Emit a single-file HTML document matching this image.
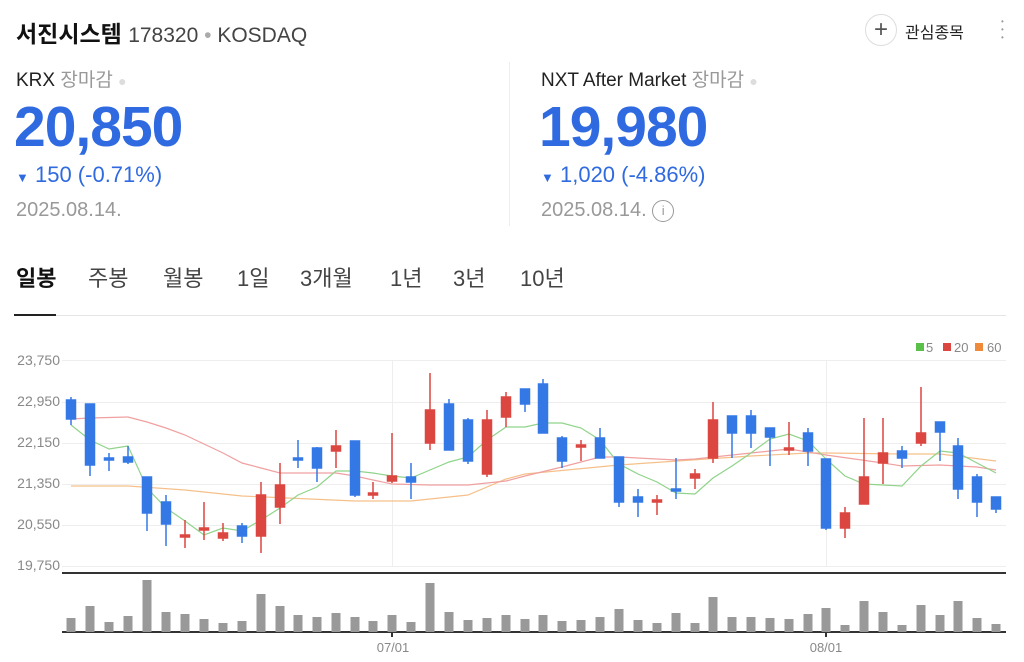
<!DOCTYPE html>
<html><head><meta charset="utf-8"><style>
body{margin:0;width:1024px;height:662px;background:#fff;font-family:"Liberation Sans","Noto Sans CJK KR",sans-serif;position:relative;overflow:hidden}
.a{position:absolute;white-space:nowrap}
</style></head><body>
<div class="a" style="left:16px;top:15px;font-size:23px;font-weight:bold;color:#111">서진시스템 <span style="font-weight:normal;font-size:21px;color:#444">178320 <span style="color:#aaa">•</span> KOSDAQ</span></div>
<div class="a" style="left:865px;top:14px;width:30px;height:30px;border:1px solid #ddd;border-radius:50%;text-align:center;line-height:30px;font-size:24px;color:#555">+</div>
<div class="a" style="left:905px;top:19px;font-size:16px;color:#222">관심종목</div>
<div class="a" style="left:1001px;top:18px;width:4px;font-size:8px;line-height:8px;color:#999">•<br>•<br>•</div>

<div class="a" style="left:16px;top:65px;font-size:19px;color:#222">KRX <span style="color:#999">장마감</span> <span style="color:#ddd;font-size:14px">●</span></div>
<div class="a" style="left:14px;top:94px;font-size:57px;font-weight:bold;color:#2f6ae0;letter-spacing:-1px">20,850</div>
<div class="a" style="left:16px;top:162px;font-size:22px;color:#2f6ae0"><span style="font-size:13px">▼</span> 150 (-0.71%)</div>
<div class="a" style="left:16px;top:199px;font-size:20px;color:#999">2025.08.14.</div>
<div class="a" style="left:509px;top:62px;width:1px;height:164px;background:#eee"></div>
<div class="a" style="left:541px;top:65px;font-size:19px;color:#222">NXT After Market <span style="color:#999">장마감</span> <span style="color:#ddd;font-size:14px">●</span></div>
<div class="a" style="left:539px;top:94px;font-size:57px;font-weight:bold;color:#2f6ae0;letter-spacing:-1px">19,980</div>
<div class="a" style="left:541px;top:162px;font-size:22px;color:#2f6ae0"><span style="font-size:13px">▼</span> 1,020 (-4.86%)</div>
<div class="a" style="left:541px;top:199px;font-size:20px;color:#999">2025.08.14. <span style="display:inline-block;width:20px;height:20px;border:1px solid #999;border-radius:50%;text-align:center;line-height:20px;font-size:13px;vertical-align:middle">i</span></div>

<div class="a" style="left:16px;top:261px;font-size:22px;color:#111;font-weight:bold">일봉</div>
<div class="a" style="left:88px;top:261px;font-size:22px;color:#444">주봉</div>
<div class="a" style="left:163px;top:261px;font-size:22px;color:#444">월봉</div>
<div class="a" style="left:237px;top:261px;font-size:22px;color:#444">1일</div>
<div class="a" style="left:300px;top:261px;font-size:22px;color:#444">3개월</div>
<div class="a" style="left:390px;top:261px;font-size:22px;color:#444">1년</div>
<div class="a" style="left:453px;top:261px;font-size:22px;color:#444">3년</div>
<div class="a" style="left:520px;top:261px;font-size:22px;color:#444">10년</div>
<div class="a" style="left:14px;top:315px;width:992px;height:1px;background:#e5e5e5"></div>
<div class="a" style="left:14px;top:314px;width:42px;height:2px;background:#222"></div>

<svg class="a" style="left:0;top:0" width="1024" height="662" font-family="Liberation Sans, sans-serif">
<g stroke="#eee" stroke-width="1">
<line x1="62" y1="360.5" x2="1006" y2="360.5"/><line x1="62" y1="402.5" x2="1006" y2="402.5"/><line x1="62" y1="443.5" x2="1006" y2="443.5"/><line x1="62" y1="484.5" x2="1006" y2="484.5"/><line x1="62" y1="525.5" x2="1006" y2="525.5"/><line x1="62" y1="566.5" x2="1006" y2="566.5"/>
<line x1="392.5" y1="361" x2="392.5" y2="566"/><line x1="826.5" y1="361" x2="826.5" y2="566"/>
</g>
<g font-size="14" fill="#888" text-anchor="end">
<text x="60" y="365">23,750</text><text x="60" y="406">22,950</text><text x="60" y="447">22,150</text><text x="60" y="488">21,350</text><text x="60" y="529">20,550</text><text x="60" y="570">19,750</text>
</g>
<g font-size="13" fill="#888" text-anchor="middle"><text x="393" y="652">07/01</text><text x="826" y="652">08/01</text></g>
<g font-size="13" fill="#888"><rect x="916" y="343" width="8" height="8" fill="#5ac04a"/><text x="926" y="352">5</text><rect x="943" y="343" width="8" height="8" fill="#dc4640"/><text x="954" y="352">20</text><rect x="975" y="343" width="8" height="8" fill="#ee8a3a"/><text x="987" y="352">60</text></g>
<line x1="62" y1="573" x2="1006" y2="573" stroke="#333" stroke-width="2"/>
<line x1="62" y1="632" x2="1006" y2="632" stroke="#333" stroke-width="2"/>
<line x1="392" y1="632" x2="392" y2="637" stroke="#333" stroke-width="2"/><line x1="826" y1="632" x2="826" y2="637" stroke="#333" stroke-width="2"/>
<polyline fill="none" stroke="#f5c08a" stroke-width="1.2" points="71,486 128,486 185,490 242,496 355,501 411,501 468,495 506,479 525,474 619,465 751,456 808,453 826,453 902,454 940,454 996,461"/>
<polyline fill="none" stroke="#f0a0a0" stroke-width="1.2" points="71,419 90,418 128,417 147,422 166,428 185,435 204,444 223,453 242,463 261,468 280,473 336,473 355,476 373,480 392,484 430,485 468,485 487,483 506,481 525,476 562,467 600,457 619,457 676,460 695,459 751,453 770,451 789,449 808,452 826,455 883,463 902,466 940,465 977,467 996,470"/>
<polyline fill="none" stroke="#8fd48a" stroke-width="1.2" points="71,425 90,440 109,449 128,446 147,488 166,508 185,521 204,535 223,528 242,531 261,520 280,508 298,495 317,487 336,471 355,471 373,473 392,476 411,478 430,470 449,462 468,457 487,440 506,427 525,427 543,423 562,423 581,428 600,440 619,464 638,474 657,482 676,493 695,494 713,478 732,466 751,453 770,439 789,434 808,441 826,459 845,476 864,484 883,485 902,486 921,466 940,451 958,453 977,463 996,473"/>
<g fill="#999">
<rect x="66.5" y="618" width="9" height="14"/><rect x="85.5" y="606" width="9" height="26"/><rect x="104.5" y="622" width="9" height="10"/><rect x="123.5" y="616" width="9" height="16"/><rect x="142.5" y="580" width="9" height="52"/><rect x="161.5" y="612" width="9" height="20"/><rect x="180.5" y="614" width="9" height="18"/><rect x="199.5" y="619" width="9" height="13"/><rect x="218.5" y="623" width="9" height="9"/><rect x="237.5" y="621" width="9" height="11"/><rect x="256.5" y="594" width="9" height="38"/><rect x="275.5" y="606" width="9" height="26"/><rect x="293.5" y="615" width="9" height="17"/><rect x="312.5" y="617" width="9" height="15"/><rect x="331.5" y="613" width="9" height="19"/><rect x="350.5" y="617" width="9" height="15"/><rect x="368.5" y="621" width="9" height="11"/><rect x="387.5" y="615" width="9" height="17"/><rect x="406.5" y="622" width="9" height="10"/><rect x="425.5" y="583" width="9" height="49"/><rect x="444.5" y="612" width="9" height="20"/><rect x="463.5" y="620" width="9" height="12"/><rect x="482.5" y="618" width="9" height="14"/><rect x="501.5" y="615" width="9" height="17"/><rect x="520.5" y="619" width="9" height="13"/><rect x="538.5" y="615" width="9" height="17"/><rect x="557.5" y="621" width="9" height="11"/><rect x="576.5" y="620" width="9" height="12"/><rect x="595.5" y="617" width="9" height="15"/><rect x="614.5" y="609" width="9" height="23"/><rect x="633.5" y="620" width="9" height="12"/><rect x="652.5" y="623" width="9" height="9"/><rect x="671.5" y="613" width="9" height="19"/><rect x="690.5" y="623" width="9" height="9"/><rect x="708.5" y="597" width="9" height="35"/><rect x="727.5" y="617" width="9" height="15"/><rect x="746.5" y="617" width="9" height="15"/><rect x="765.5" y="618" width="9" height="14"/><rect x="784.5" y="619" width="9" height="13"/><rect x="803.5" y="614" width="9" height="18"/><rect x="821.5" y="608" width="9" height="24"/><rect x="840.5" y="625" width="9" height="7"/><rect x="859.5" y="601" width="9" height="31"/><rect x="878.5" y="612" width="9" height="20"/><rect x="897.5" y="625" width="9" height="7"/><rect x="916.5" y="605" width="9" height="27"/><rect x="935.5" y="615" width="9" height="17"/><rect x="953.5" y="601" width="9" height="31"/><rect x="972.5" y="618" width="9" height="14"/><rect x="991.5" y="624" width="9" height="8"/>
</g>
<g stroke-width="1.5">
<g stroke="#3478e5" fill="#3478e5">
<line x1="71" y1="397" x2="71" y2="425"/><rect x="66.5" y="400" width="9" height="19"/>
<line x1="90" y1="404" x2="90" y2="476"/><rect x="85.5" y="404" width="9" height="61"/>
<line x1="109" y1="453" x2="109" y2="471"/><rect x="104.5" y="458" width="9" height="2"/>
<line x1="128" y1="446" x2="128" y2="464"/><rect x="123.5" y="457" width="9" height="5"/>
<line x1="147" y1="477" x2="147" y2="531"/><rect x="142.5" y="477" width="9" height="36"/>
<line x1="166" y1="495" x2="166" y2="546"/><rect x="161.5" y="502" width="9" height="22"/>
<line x1="242" y1="523" x2="242" y2="543"/><rect x="237.5" y="526" width="9" height="10"/>
<line x1="298" y1="440" x2="298" y2="468"/><rect x="293.5" y="458" width="9" height="2"/>
<line x1="317" y1="447" x2="317" y2="482"/><rect x="312.5" y="448" width="9" height="20"/>
<line x1="355" y1="441" x2="355" y2="497"/><rect x="350.5" y="441" width="9" height="54"/>
<line x1="411" y1="463" x2="411" y2="499"/><rect x="406.5" y="477" width="9" height="5"/>
<line x1="449" y1="399" x2="449" y2="450"/><rect x="444.5" y="404" width="9" height="46"/>
<line x1="468" y1="418" x2="468" y2="464"/><rect x="463.5" y="420" width="9" height="41"/>
<line x1="525" y1="389" x2="525" y2="412"/><rect x="520.5" y="389" width="9" height="15"/>
<line x1="543" y1="379" x2="543" y2="433"/><rect x="538.5" y="384" width="9" height="49"/>
<line x1="562" y1="436" x2="562" y2="468"/><rect x="557.5" y="438" width="9" height="23"/>
<line x1="600" y1="428" x2="600" y2="458"/><rect x="595.5" y="438" width="9" height="20"/>
<line x1="619" y1="457" x2="619" y2="507"/><rect x="614.5" y="457" width="9" height="45"/>
<line x1="638" y1="489" x2="638" y2="517"/><rect x="633.5" y="497" width="9" height="5"/>
<line x1="676" y1="458" x2="676" y2="499"/><rect x="671.5" y="489" width="9" height="2"/>
<line x1="732" y1="416" x2="732" y2="458"/><rect x="727.5" y="416" width="9" height="17"/>
<line x1="751" y1="410" x2="751" y2="448"/><rect x="746.5" y="416" width="9" height="17"/>
<line x1="770" y1="428" x2="770" y2="466"/><rect x="765.5" y="428" width="9" height="9"/>
<line x1="808" y1="428" x2="808" y2="466"/><rect x="803.5" y="433" width="9" height="18"/>
<line x1="826" y1="459" x2="826" y2="530"/><rect x="821.5" y="459" width="9" height="69"/>
<line x1="902" y1="446" x2="902" y2="468"/><rect x="897.5" y="451" width="9" height="7"/>
<line x1="940" y1="422" x2="940" y2="461"/><rect x="935.5" y="422" width="9" height="10"/>
<line x1="958" y1="438" x2="958" y2="499"/><rect x="953.5" y="446" width="9" height="43"/>
<line x1="977" y1="474" x2="977" y2="517"/><rect x="972.5" y="477" width="9" height="25"/>
<line x1="996" y1="497" x2="996" y2="513"/><rect x="991.5" y="497" width="9" height="12"/>
</g>
<g stroke="#dc4640" fill="#dc4640">
<line x1="185" y1="520" x2="185" y2="548"/><rect x="180.5" y="535" width="9" height="2"/>
<line x1="204" y1="502" x2="204" y2="540"/><rect x="199.5" y="528" width="9" height="2"/>
<line x1="223" y1="523" x2="223" y2="541"/><rect x="218.5" y="533" width="9" height="5"/>
<line x1="261" y1="482" x2="261" y2="553"/><rect x="256.5" y="495" width="9" height="41"/>
<line x1="280" y1="463" x2="280" y2="524"/><rect x="275.5" y="485" width="9" height="22"/>
<line x1="336" y1="430" x2="336" y2="468"/><rect x="331.5" y="446" width="9" height="5"/>
<line x1="373" y1="482" x2="373" y2="499"/><rect x="368.5" y="493" width="9" height="2"/>
<line x1="392" y1="433" x2="392" y2="483"/><rect x="387.5" y="476" width="9" height="5"/>
<line x1="430" y1="373" x2="430" y2="450"/><rect x="425.5" y="410" width="9" height="33"/>
<line x1="487" y1="410" x2="487" y2="477"/><rect x="482.5" y="420" width="9" height="54"/>
<line x1="506" y1="392" x2="506" y2="427"/><rect x="501.5" y="397" width="9" height="20"/>
<line x1="581" y1="440" x2="581" y2="461"/><rect x="576.5" y="445" width="9" height="2"/>
<line x1="657" y1="495" x2="657" y2="515"/><rect x="652.5" y="500" width="9" height="2"/>
<line x1="695" y1="469" x2="695" y2="489"/><rect x="690.5" y="474" width="9" height="4"/>
<line x1="713" y1="402" x2="713" y2="463"/><rect x="708.5" y="420" width="9" height="38"/>
<line x1="789" y1="422" x2="789" y2="455"/><rect x="784.5" y="448" width="9" height="2"/>
<line x1="845" y1="507" x2="845" y2="538"/><rect x="840.5" y="513" width="9" height="15"/>
<line x1="864" y1="418" x2="864" y2="504"/><rect x="859.5" y="477" width="9" height="27"/>
<line x1="883" y1="418" x2="883" y2="484"/><rect x="878.5" y="453" width="9" height="10"/>
<line x1="921" y1="387" x2="921" y2="446"/><rect x="916.5" y="433" width="9" height="10"/>
</g></g>
</svg>
</body></html>
